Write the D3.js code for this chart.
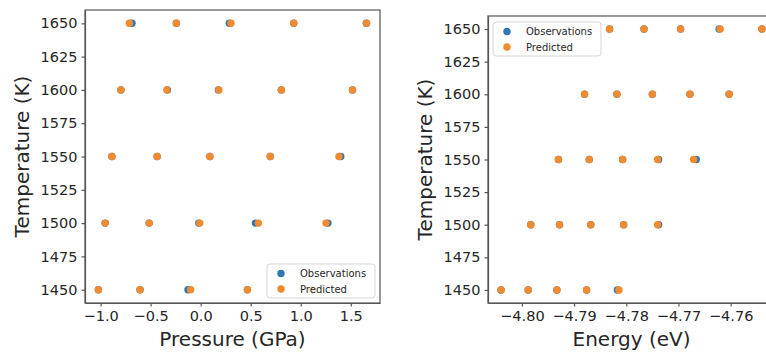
<html>
<head>
<meta charset="utf-8">
<script src="https://d3js.org/d3.v7.min.js"></script>
<style>
    body {margin: 0; background: white;}
    text {font-family: "DejaVu Sans", sans-serif; fill: #262626;}
    .axis text {font-size: 14.5px; fill: #262626;}
    .axis path, .axis line {stroke: #555; stroke-width: 1.2;}
</style>
</head>
<body>
<svg width=766 height=352></svg>
<script>
// temperature rows (K), 5 points per row
const temps = [1650, 1600, 1550, 1500, 1450];
const tempTicks = [1450, 1475, 1500, 1525, 1550, 1575, 1600, 1625, 1650];

// pressure (GPa)
const pressureObs = [
    [-0.686, -0.243, 0.286, 0.930, 1.655],
    [-0.797, -0.332, 0.177, 0.806, 1.517],
    [-0.887, -0.435, 0.092, 0.695, 1.400],
    [-0.955, -0.515, -0.019, 0.547, 1.272],
    [-1.022, -0.606, -0.127, 0.467, 1.115]
];
const pressurePred = [
    [-0.713, -0.243, 0.303, 0.930, 1.658],
    [-0.797, -0.338, 0.182, 0.806, 1.517],
    [-0.887, -0.435, 0.092, 0.695, 1.382],
    [-0.955, -0.515, -0.009, 0.577, 1.252],
    [-1.022, -0.606, -0.100, 0.467, 1.115]
];
const pressureTicks = [-1.0, -0.5, 0.0, 0.5, 1.0, 1.5];

// energy (eV)
const energyObs = [
    [-4.7832, -4.7766, -4.7696, -4.7622, -4.7540],
    [-4.7880, -4.7818, -4.7750, -4.7678, -4.7603],
    [-4.7930, -4.7871, -4.7807, -4.7738, -4.7666],
    [-4.7983, -4.7928, -4.7868, -4.7805, -4.7738],
    [-4.8040, -4.7988, -4.7933, -4.7876, -4.7817]
];
const energyPred = [
    [-4.7832, -4.7766, -4.7696, -4.7620, -4.7540],
    [-4.7880, -4.7818, -4.7750, -4.7678, -4.7603],
    [-4.7930, -4.7871, -4.7807, -4.7740, -4.7671],
    [-4.7983, -4.7928, -4.7868, -4.7805, -4.7740],
    [-4.8040, -4.7988, -4.7933, -4.7876, -4.7814]
];
const energyTicks = [-4.80, -4.79, -4.78, -4.77, -4.76];

const seriesNames = ["Observations", "Predicted"];
const colors = ["#2f77b4", "#f28a30"];

function toPoints(rows) {
    var pts = [];
    rows.forEach(function(r, i) {
        r.forEach(function(v) { pts.push({x: v, t: temps[i]}); });
    });
    return pts;
}

// matplotlib style: data extent + 5% margin
function padded(values) {
    var e = d3.extent(values);
    var m = (e[1] - e[0]) * 0.05;
    return [e[0] - m, e[1] + m];
}

function drawPanel(p) {
    var svg = d3.select('svg');
    var obs = toPoints(p.obs), pred = toPoints(p.pred);
    var xs = d3.scaleLinear().domain(padded(obs.concat(pred).map(d => d.x))).range([p.left, p.right]);
    var ys = d3.scaleLinear().domain(padded(temps)).range([p.bottom, p.top]);

    var g = svg.append('g');
    [obs, pred].forEach(function(pts, k) {
        g.append('g').selectAll('circle')
        .data(pts)
        .enter()
        .append('circle')
        .attr('cx', d => xs(d.x))
        .attr('cy', d => ys(d.t))
        .attr('r', 3.7)
        .attr('fill', colors[k]);
    });

    svg.append('g').attr('class', 'axis')
    .attr('transform', 'translate(0,' + p.bottom + ')')
    .call(d3.axisBottom(xs).tickValues(p.ticks).tickFormat(d3.format(p.fmt)).tickSizeInner(3.5).tickSizeOuter(0).tickPadding(4));

    svg.append('g').attr('class', 'axis')
    .attr('transform', 'translate(' + p.left + ',0)')
    .call(d3.axisLeft(ys).tickValues(tempTicks).tickFormat(d3.format('d')).tickSizeInner(3.5).tickSizeOuter(0).tickPadding(4));

    // frame
    svg.append('rect')
    .attr('x', p.left).attr('y', p.top)
    .attr('width', p.right - p.left).attr('height', p.bottom - p.top)
    .attr('fill', 'none').attr('stroke', '#555').attr('stroke-width', 1.2);

    svg.append('text')
    .attr('x', (p.left + p.right) / 2).attr('y', 346)
    .style('text-anchor', 'middle').style('font-size', '20px')
    .text(p.xlabel);

    svg.append('text')
    .attr('transform', 'translate(' + p.ylabelX + ',' + ((p.top + p.bottom) / 2) + ') rotate(-90)')
    .style('text-anchor', 'middle').style('dominant-baseline', 'central').style('font-size', '20px')
    .text('Temperature (K)');

    // legend
    var lg = svg.append('g').attr('transform', 'translate(' + p.legend[0] + ',' + p.legend[1] + ')');
    lg.append('rect')
    .attr('width', 108).attr('height', 34).attr('rx', 3)
    .attr('fill', 'white').attr('fill-opacity', 0.8)
    .attr('stroke', '#d5d5d5');
    seriesNames.forEach(function(name, k) {
        lg.append('circle').attr('cx', 14).attr('cy', 9.5 + k * 15.5).attr('r', 3.7).attr('fill', colors[k]);
        lg.append('text').attr('x', 33).attr('y', 13 + k * 15.5)
        .style('font-size', '10px').text(name);
    });
}

drawPanel({obs: pressureObs, pred: pressurePred, ticks: pressureTicks, fmt: '.1f',
    left: 85, right: 380, top: 10, bottom: 303, xlabel: 'Pressure (GPa)', ylabelX: 22, legend: [267, 264]});
drawPanel({obs: energyObs, pred: energyPred, ticks: energyTicks, fmt: '.2f',
    left: 488, right: 775, top: 16, bottom: 303, xlabel: 'Energy (eV)', ylabelX: 425, legend: [493, 22]});
</script>
</body>
</html>
